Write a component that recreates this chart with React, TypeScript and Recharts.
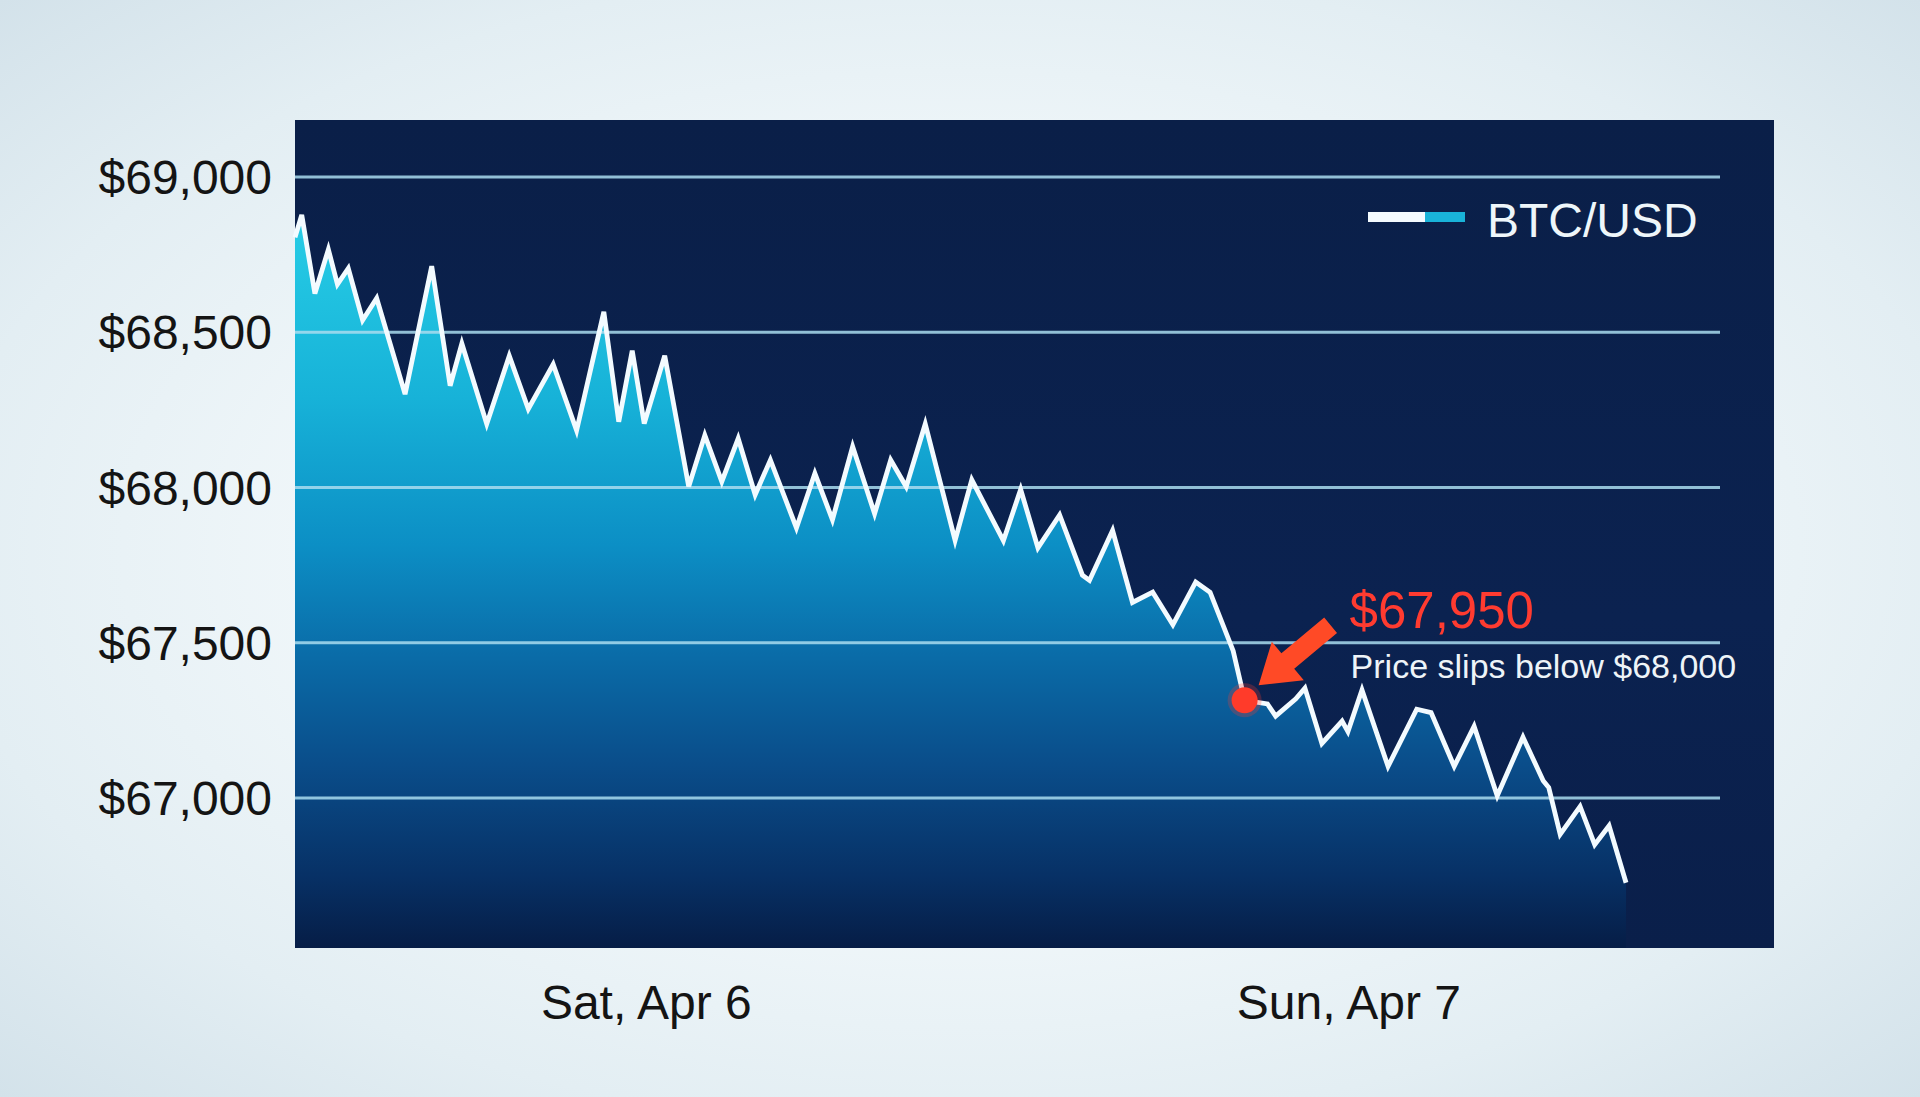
import { ComposedChart, Area, Line, XAxis, YAxis, ReferenceLine, ReferenceDot, Legend } from "recharts";

// hours since Sat 00:00
const hours = [
  0, 0.23, 0.68, 1.14, 1.45, 1.82, 2.31, 2.79, 3.76, 4.67, 5.3, 5.7, 6.55, 7.32, 7.97, 8.82, 9.62,
  10.55, 11.06, 11.52, 11.93, 12.63, 13.45, 14.0, 14.58, 15.14, 15.72, 16.24, 17.13, 17.76, 18.36, 19.05, 19.8, 20.35, 20.88, 21.53, 22.55, 23.12,
  24.2, 24.79, 25.38, 26.12, 26.9, 27.14, 27.93, 28.61, 29.3, 29.99, 30.77, 31.26, 32.05, 32.44,
  33.22, 33.5, 34.19, 34.5, 35.08, 35.77, 35.97, 36.45, 37.34, 38.32, 38.81, 39.6, 40.28, 41.07, 41.95, 42.64, 42.83, 43.22, 43.9, 44.4, 44.89, 45.47,
];

const prices = [
  68806, 68878, 68625, 68767, 68655, 68706, 68539, 68610, 68301, 68713, 68328, 68464, 68205, 68424, 68253, 68397, 68184,
  68566, 68212, 68441, 68206, 68425, 68003, 68169, 68019, 68158, 67977, 68089, 67870, 68046, 67896, 68132, 67916, 68089, 68003, 68205, 67830, 68025,
  67829, 67994, 67806, 67912, 67718, 67701, 67862, 67630, 67663, 67558, 67696, 67663, 67474, 67315,
  67303, 67264, 67320, 67354, 67176, 67248, 67214, 67348, 67102, 67286, 67275, 67102, 67231, 67007, 67196, 67056, 67034, 66883, 66973, 66850, 66911, 66727,
];

const yTicks = [67000, 67500, 68000, 68500, 69000];
const xTickHours = [12, 36];
const xTickLabels = ["Sat, Apr 6", "Sun, Apr 7"];
const seriesName = "BTC/USD";
const markIndex = 51;
const markLabel = "$67,950";
const markNote = "Price slips below $68,000";

const data = hours.map((h, i) => ({ h, price: prices[i] }));

const FONT = '"Liberation Sans", Arial, Helvetica, sans-serif';

const fmtUsd = (v: number) => "$" + v.toLocaleString("en-US");

function MarkShape(props: any) {
  const { cx, cy } = props;
  if (cx == null || cy == null) return null;
  // arrow pointing down-left at the dot
  const pts = [
    [14, -15], [59.2, -20.1], [49.6, -31.6], [92.4, -67.3],
    [79.6, -82.7], [36.8, -47.0], [27.2, -58.5],
  ].map(([dx, dy]) => `${cx + dx},${cy + dy}`).join(" ");
  return (
    <g fontFamily={FONT}>
      <circle cx={cx} cy={cy} r={17} fill="#ff3b2a" opacity={0.25} />
      <circle cx={cx} cy={cy} r={13} fill="#ff3b2a" />
      <polygon points={pts} fill="#ff4a26" />
      <text x={cx + 105} y={cy - 72} fontSize={51} fill="#ff3b30">{markLabel}</text>
      <text x={cx + 106} y={cy - 22} fontSize={34} fill="#eef4f8">{markNote}</text>
    </g>
  );
}

function LegendBox() {
  return (
    <svg width={400} height={76} style={{ display: "block", overflow: "visible" }}>
      <rect x={0} y={27} width={57} height={10} fill="#f4fbff" />
      <rect x={57} y={27} width={40} height={10} fill="#19b3d9" />
      <text x={119} y={52} fontSize={48} fill="#eef6fa" fontFamily={FONT}>{seriesName}</text>
    </svg>
  );
}

export default function App() {
  return (
    <div
      style={{
        position: "absolute",
        left: 0,
        top: 0,
        width: 1920,
        height: 1097,
        overflow: "hidden",
        background: "radial-gradient(ellipse at 50% 50%, #f5fafc 35%, #e3eef3 75%, #d3e2ea 100%)",
        fontFamily: FONT,
      }}
    >
      {/* dark screen panel */}
      <div
        style={{
          position: "absolute",
          left: 295,
          top: 120,
          width: 1479,
          height: 828,
          background: "linear-gradient(180deg, #0a1f48 0%, #0b2250 60%, #0a1f4a 100%)",
        }}
      />
      <div style={{ position: "absolute", left: 0, top: 0 }}>
        <ComposedChart width={1920} height={1097} data={data} margin={{ top: 120, right: 200, bottom: 0, left: 0 }}>
          <defs>
            <linearGradient id="btcFill" x1="0" y1="0" x2="0" y2="1">
              <stop offset="0%" stopColor="#27cde6" />
              <stop offset="25%" stopColor="#17b2d8" />
              <stop offset="45%" stopColor="#0c8fc5" />
              <stop offset="60%" stopColor="#0a6ca8" />
              <stop offset="75%" stopColor="#0a4d8a" />
              <stop offset="90%" stopColor="#073166" />
              <stop offset="100%" stopColor="#061d46" />
            </linearGradient>
          </defs>
          <XAxis
            dataKey="h"
            type="number"
            domain={[0, 48.68]}
            ticks={xTickHours}
            tickFormatter={(v: number) => xTickLabels[xTickHours.indexOf(v)] ?? ""}
            axisLine={false}
            tickLine={false}
            tickMargin={31}
            height={149}
            tick={{ fontSize: 48, fill: "#141414", fontFamily: FONT }}
          />
          <YAxis
            type="number"
            domain={[66517, 69184]}
            ticks={yTicks}
            tickFormatter={fmtUsd}
            axisLine={false}
            tickLine={false}
            tickMargin={17}
            width={295}
            tick={{ fontSize: 48, fill: "#141414", fontFamily: FONT }}
          />
          <Area
            type="linear"
            dataKey="price"
            stroke="none"
            fill="url(#btcFill)"
            fillOpacity={1}
            isAnimationActive={false}
            dot={false}
            activeDot={false}
            legendType="none"
          />
          {yTicks.map((v) => (
            <ReferenceLine key={v} y={v} stroke="#a9dcef" strokeOpacity={0.85} strokeWidth={3} zIndex={150} />
          ))}
          <Line
            type="linear"
            dataKey="price"
            name={seriesName}
            stroke="#f3fbff"
            strokeWidth={4.8}
            dot={false}
            activeDot={false}
            isAnimationActive={false}
          />
          <ReferenceDot
            x={hours[markIndex]}
            y={prices[markIndex]}
            r={13}
            shape={(p: any) => <MarkShape {...p} />}
            zIndex={1500}
          />
          <Legend
            layout="horizontal"
            verticalAlign="middle"
            align="center"
            wrapperStyle={{ top: 185, left: 1368, width: 400, height: 76 }}
            content={() => <LegendBox />}
          />
        </ComposedChart>
      </div>
    </div>
  );
}
